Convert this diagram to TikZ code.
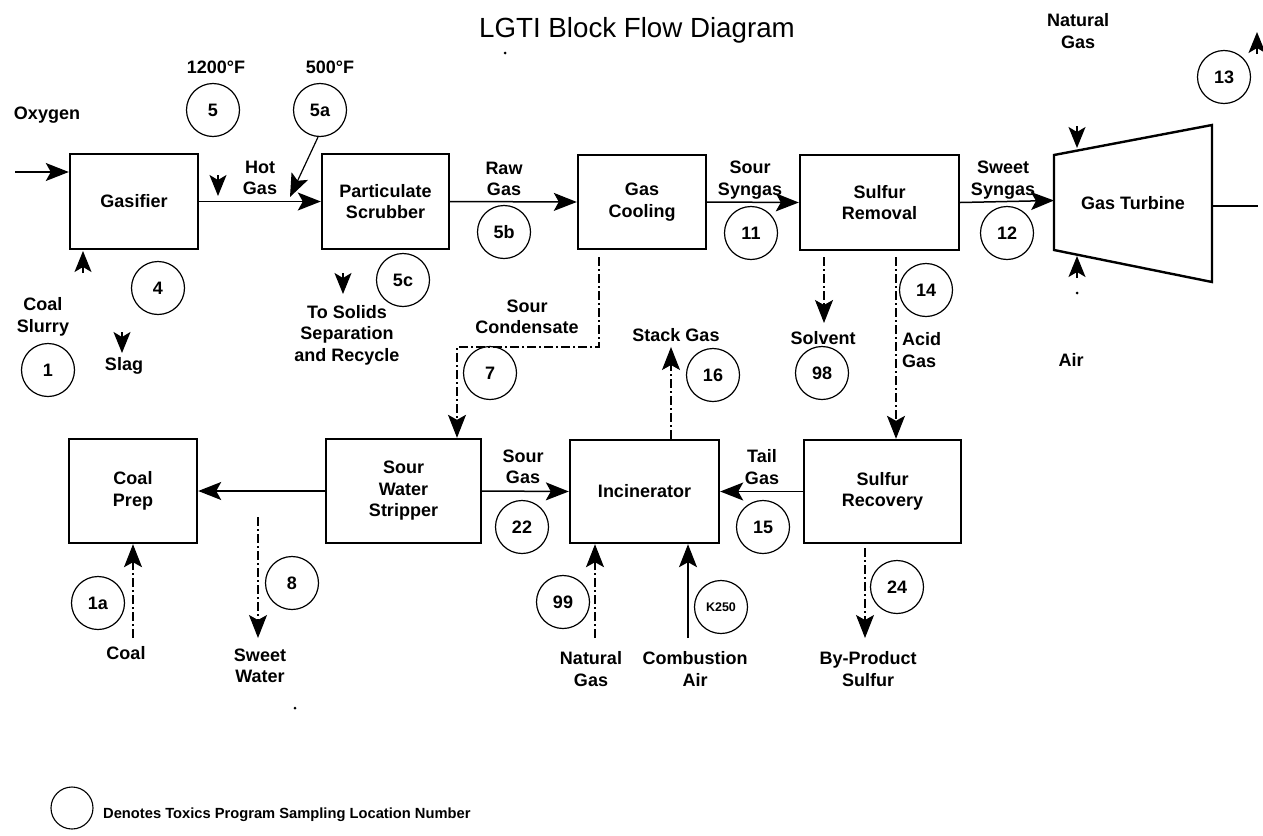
\documentclass[tikz,border=0pt]{standalone}
\usepackage{fontspec}
\setmainfont{Liberation Sans}
\usetikzlibrary{arrows.meta}
\tikzset{
  box/.style={draw, line width=2.4pt, inner sep=0pt, align=center,
    font=\bfseries\fontsize{18}{21.5}\selectfont},
  lbl/.style={inner sep=0pt, align=center, font=\bfseries\fontsize{18}{21.5}\selectfont},
  num/.style={circle, draw, line width=1.2pt, minimum size=53pt, inner sep=0pt,
    font=\bfseries\fontsize{18}{20}\selectfont},
  flow/.style={line width=1.5pt, -{Stealth[length=23pt,width=18pt,inset=5pt]}},
  dflow/.style={flow, line width=1.1pt, dash pattern=on 9pt off 3pt on 2pt off 3pt},
  head/.style={line width=1.5pt, -{Stealth[length=21pt,width=17pt,inset=5pt]}},
  speck/.style={fill, circle, inner sep=0pt, minimum size=3pt}
}
\begin{document}
\begin{tikzpicture}[x=1pt,y=-1pt]
\useasboundingbox (0,0) rectangle (1263,835);

% title
\node[inner sep=0pt, font=\fontsize{27.7}{30}\selectfont] (title) at (637,30) {LGTI Block Flow Diagram};

% process boxes
\node[box, minimum width=128pt, minimum height=95pt] (gasifier) at (134,201.5) {Gasifier};
\node[box, minimum width=127pt, minimum height=95pt] (scrubber) at (385.5,201.5) {Particulate\\Scrubber};
\node[box, minimum width=128pt, minimum height=94pt] (cooling) at (642,202) {Gas\\Cooling};
\node[box, minimum width=159pt, minimum height=95pt] (sremoval) at (879.5,202.5) {Sulfur\\Removal};
\node[box, minimum width=128pt, minimum height=104pt] (coalprep) at (133,491) {Coal\\Prep};
\node[box, minimum width=155pt, minimum height=104pt] (sws) at (403.5,491) {Sour\\Water\\Stripper};
\node[box, minimum width=149pt, minimum height=103pt] (incin) at (644.5,491.5) {Incinerator};
\node[box, minimum width=157pt, minimum height=103pt] (srecovery) at (882.5,491.5) {Sulfur\\Recovery};

% gas turbine
\draw[line width=2.4pt, line join=miter] (1054,155) -- (1212,125) -- (1212,282) -- (1054,250) -- cycle;
\node[lbl] (turbine) at (1133,203) {Gas Turbine};
\coordinate (tin) at (1054,200.5);
\coordinate (toutA) at (1212,206);
\coordinate (toutB) at (1258,206);
\draw[line width=1.2pt] (toutA) -- (toutB);

% sampling circles
\node[num] (c5) at (213,110) {5};
\node[num] (c5a) at (320,110) {5a};
\node[num] (c4) at (158,288) {4};
\node[num] (c1) at (48,370) {1};
\node[num] (c5c) at (403,280) {5c};
\node[num] (c5b) at (504,232) {5b};
\node[num] (c11) at (751,233) {11};
\node[num] (c12) at (1007,233) {12};
\node[num] (c13) at (1224,77) {13};
\node[num] (c7) at (490,373) {7};
\node[num] (c98) at (822,373) {98};
\node[num] (c14) at (926,290) {14};
\node[num] (c16) at (713,375) {16};
\node[num] (c8) at (292,583) {8};
\node[num] (c1a) at (98,603) {1a};
\node[num] (c22) at (522,527) {22};
\node[num] (c15) at (763,527) {15};
\node[num] (c99) at (563,602) {99};
\node[num, font=\bfseries\fontsize{12.5}{14}\selectfont] (cK) at (721,607) {K250};
\node[num] (c24) at (897,587) {24};

% labels
\node[lbl] (t1200) at (216,67) {1200°F};
\node[lbl] (t500) at (330,67) {500°F};
\node[lbl] (toxy) at (47,115) {Oxygen};
\node[lbl] (thot) at (260,178) {Hot\\Gas};
\node[lbl] (tslurry) at (43,317) {Coal\\Slurry};
\node[lbl] (tslag) at (124,366) {Slag};
\node[lbl] (tsolids) at (347,335) {To Solids\\Separation\\and Recycle};
\node[lbl] (traw) at (504,179) {Raw\\Gas};
\node[lbl] (tsour) at (750,180) {Sour\\Syngas};
\node[lbl] (tsweet) at (1003,180) {Sweet\\Syngas};
\node[lbl] (tng1) at (1078,31) {Natural\\Gas};
\node[lbl] (tair) at (1071,360) {Air};
\node[lbl] (tcond) at (527,317) {Sour\\Condensate};
\node[lbl] (tstack) at (676,335) {Stack Gas};
\node[lbl] (tsolv) at (823,338) {Solvent};
\node[lbl, anchor=west, align=left] (tacid) at (902,350) {Acid\\Gas};
\node[lbl] (tsw) at (260,666) {Sweet\\Water};
\node[lbl] (tcoal) at (126,653) {Coal};
\node[lbl] (tsgas) at (523,467) {Sour\\Gas};
\node[lbl] (ttail) at (762,467) {Tail\\Gas};
\node[lbl] (tng2) at (591,669) {Natural\\Gas};
\node[lbl] (tcomb) at (695,669) {Combustion\\Air};
\node[lbl] (tbyp) at (868,669) {By-Product\\Sulfur};

% main gas line
\coordinate (oxin) at (15,172);
\draw[flow] (oxin) -- (oxin -| gasifier.west);
\draw[flow] (gasifier.east) -- (scrubber.west);
\draw[flow] (scrubber.east) -- (cooling.west);
\draw[flow] (cooling.east) -- (sremoval.west);
\draw[flow] (sremoval.east) -- (tin);

% 5a sampling line
\coordinate (p5a) at (290,197);
\draw[flow, line width=1.2pt] ([xshift=-2pt]c5a.south) -- (p5a);

% lone arrowheads
\coordinate (h5a) at (218,175);   \coordinate (h5b) at (218,196);
\coordinate (h4a) at (83,273);    \coordinate (h4b) at (83,251);
\coordinate (hsa) at (122,332);   \coordinate (hsb) at (122,353);
\coordinate (hca) at (343,273);   \coordinate (hcb) at (343,294);
\coordinate (hna) at (1077,126);  \coordinate (hnb) at (1077,148);
\coordinate (haa) at (1077,278);  \coordinate (hab) at (1077,256);
\coordinate (h13a) at (1257,54);  \coordinate (h13b) at (1257,32);
\draw[head] (h5a) -- (h5b);
\draw[head] (h4a) -- (h4b);
\draw[head] (hsa) -- (hsb);
\draw[head] (hca) -- (hcb);
\draw[head] (hna) -- (hnb);
\draw[head] (haa) -- (hab);
\draw[head] (h13a) -- (h13b);

% sour condensate
\coordinate (c7a) at (599,257);
\coordinate (c7b) at (457,347);
\draw[dflow] (c7a) |- (c7b) -- (c7b |- sws.north);

% solvent
\coordinate (solv) at (824,323);
\draw[dflow] (solv |- 0,257) -- (solv);

% acid gas
\coordinate (acid) at (896,257);
\draw[dflow] (acid) -- (acid |- srecovery.north);

% stack gas
\coordinate (stack) at (671,347);
\draw[dflow] (stack |- incin.north) -- (stack);

% bottom row
\draw[flow] (sws.west) -- (coalprep.east);
\coordinate (swa) at (258,517);
\coordinate (swb) at (258,638);
\draw[dflow] (swa) -- (swb);
\coordinate (coal) at (133,638);
\draw[dflow] (coal) -- (coal |- coalprep.south);
\draw[flow] (sws.east) -- (incin.west);
\draw[flow] (srecovery.west) -- (incin.east);
\coordinate (ng) at (595,638);
\draw[dflow] (ng) -- (ng |- incin.south);
\coordinate (ca) at (688,638);
\draw[flow, line width=1.2pt] (ca) -- (ca |- incin.south);
\coordinate (byp) at (865,638);
\draw[dflow] (byp |- 0,548) -- (byp);

% specks
\node[speck] (s1) at (505,53) {};
\node[speck] (s2) at (295,708) {};
\node[speck] (s3) at (1077,293) {};

% legend
\node[circle, draw, line width=1.1pt, minimum size=42pt, inner sep=0pt] (legc) at (72,808) {};
\node[inner sep=0pt, anchor=west, font=\bfseries\fontsize{14.7}{16}\selectfont] (legt) at (103,815) {Denotes Toxics Program Sampling Location Number};
\end{tikzpicture}
\end{document}
